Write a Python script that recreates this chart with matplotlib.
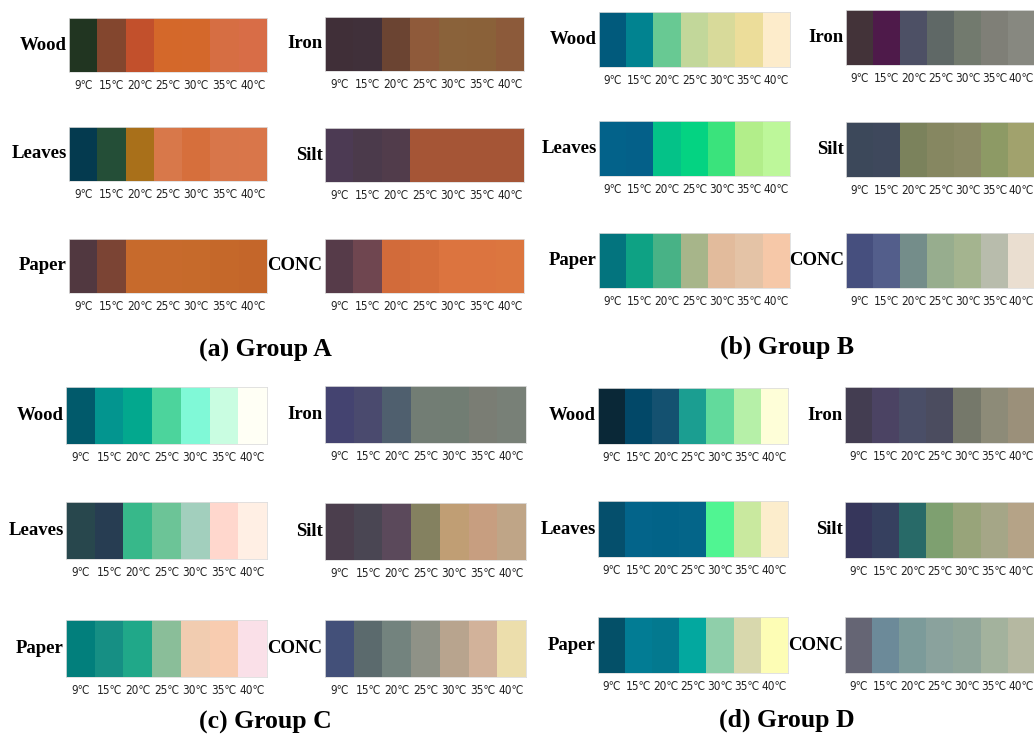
import numpy as np
import matplotlib
matplotlib.use('Agg')
import matplotlib.pyplot as plt
from matplotlib.colors import to_rgb

# temperatures shown under every strip
temps = ['9℃', '15℃', '20℃', '25℃', '30℃', '35℃', '40℃']
left_materials = ['Wood', 'Leaves', 'Paper']
right_materials = ['Iron', 'Silt', 'CONC']
group_titles = ['(a) Group A', '(b) Group B', '(c) Group C', '(d) Group D']

# colour of each temperature cell, per group and material
group_a = {
    'Wood':   ['#213521', '#83462e', '#c2502c', '#d4682a', '#d4682b', '#d66e43', '#d86d47'],
    'Leaves': ['#043a4f', '#244e37', '#a9701a', '#d8784a', '#d66f3c', '#d8764a', '#d9764a'],
    'Paper':  ['#513840', '#7b4434', '#c76a2c', '#c76a2c', '#c66a2b', '#c5682a', '#c4662a'],
    'Iron':   ['#402f38', '#40303a', '#6b4432', '#8f5a3a', '#8a623a', '#8a6139', '#8c5a3a'],
    'Silt':   ['#4c3a53', '#4b3a4b', '#513c4b', '#a55536', '#a55536', '#a55536', '#a55536'],
    'CONC':   ['#563b49', '#6f4650', '#d26b3a', '#d56e3b', '#dc743f', '#dc743f', '#dc763f'],
}
group_b = {
    'Wood':   ['#015a7c', '#018390', '#68c993', '#c2d79a', '#d8da9a', '#ecdd9a', '#fdeccb'],
    'Leaves': ['#03628a', '#046089', '#04c288', '#04d382', '#3ae37c', '#b2ee8a', '#bdf79a'],
    'Paper':  ['#03747e', '#0ea284', '#48b286', '#a7b58a', '#e2bb9c', '#e4c3a6', '#f6c8a8'],
    'Iron':   ['#433339', '#4e1a4a', '#4d5065', '#5f6866', '#727a6e', '#7f7f77', '#878880'],
    'Silt':   ['#3c485a', '#3e485c', '#7b825c', '#868761', '#8b8a65', '#8d9a65', '#a1a26d'],
    'CONC':   ['#464f7e', '#535e8b', '#748d8a', '#97ad8e', '#a4b48f', '#b8bcac', '#eaded0'],
}
group_c = {
    'Wood':   ['#015a6b', '#03958f', '#03a88e', '#4cd49c', '#80f9d7', '#c9fde1', '#fffff5'],
    'Leaves': ['#28474d', '#273d52', '#37b88a', '#6cc497', '#a2cfbd', '#ffd7cd', '#ffefe4'],
    'Paper':  ['#027f7c', '#168f84', '#20a889', '#8abe99', '#f1ccb0', '#f8ccb0', '#fae0e8'],
    'Iron':   ['#444370', '#4a4a6e', '#4f5f6e', '#727d74', '#717d73', '#7a7d74', '#788077'],
    'Silt':   ['#4b3e4d', '#4a4653', '#5b495b', '#848160', '#c09e74', '#c79e80', '#bfa587'],
    'CONC':   ['#435079', '#5b6a6d', '#73837e', '#8f9287', '#b8a48e', '#d2b29a', '#ecdeac'],
}
group_d = {
    'Wood':   ['#0a2837', '#024868', '#145170', '#1b9e91', '#62da9c', '#b6f0a8', '#fefed8'],
    'Leaves': ['#054f6c', '#03648a', '#026388', '#046589', '#50f592', '#c9e99f', '#fcedcc'],
    'Paper':  ['#045068', '#027c94', '#03798f', '#03a89f', '#8fcfaa', '#d8d8ad', '#fdfdb5'],
    'Iron':   ['#433d51', '#4b4363', '#4a4e67', '#4b4c5f', '#75786a', '#8d8b78', '#9b907a'],
    'Silt':   ['#36365b', '#36405f', '#286a68', '#7ea070', '#98a47a', '#a5a687', '#b5a387'],
    'CONC':   ['#656574', '#6c8a99', '#7c9b9a', '#8aa29d', '#8fa59a', '#a3b29d', '#b5b8a1'],
}
groups = [group_a, group_b, group_c, group_d]

W, H = 1034, 747
fig = plt.figure(figsize=(W / 100, H / 100), dpi=100)

# strip boxes in pixels: (x0, x1, [top of the three rows], height)
layout = [
    [(69, 267, [18, 127, 239], 54), (325, 524, [17, 128, 239], 54)],
    [(599, 790, [12, 121, 233], 55), (846, 1035, [10, 122, 233], 55)],
    [(66, 267, [387, 502, 620], 57), (325, 526, [386, 503, 620], 57)],
    [(598, 788, [388, 501, 617], 56), (845, 1035, [387, 502, 617], 56)],
]
title_pos = [(265, 350), (787, 347), (265, 722), (787, 720)]

def px_rect(x0, x1, top, h):
    return [x0 / W, 1 - (top + h) / H, (x1 - x0) / W, h / H]

for g, grp in enumerate(groups):
    for side, materials in enumerate([left_materials, right_materials]):
        x0, x1, tops, h = layout[g][side]
        for r, mat in enumerate(materials):
            ax = fig.add_axes(px_rect(x0, x1, tops[r], h))
            img = np.array([[to_rgb(c) for c in grp[mat]]])
            ax.imshow(img, aspect='auto', interpolation='nearest')
            ax.set_xticks(range(len(temps)))
            ax.set_xticklabels(temps, fontsize=8.5, family='DejaVu Sans',
                               fontstretch='condensed', color='#222222')
            ax.tick_params(axis='x', length=0, pad=5)
            ax.set_yticks([])
            for s in ax.spines.values():
                s.set_color('#dddddd')
                s.set_linewidth(0.6)
            ax.text(-0.012, 0.5, mat, transform=ax.transAxes, ha='right', va='center',
                    fontsize=13.5, fontweight='bold', family='Liberation Serif')
    tx, ty = title_pos[g]
    fig.text(tx / W, 1 - ty / H, group_titles[g], ha='center', va='center',
             fontsize=18.5, fontweight='bold', family='Liberation Serif')

fig.savefig('out.png', dpi=100, facecolor='white')
